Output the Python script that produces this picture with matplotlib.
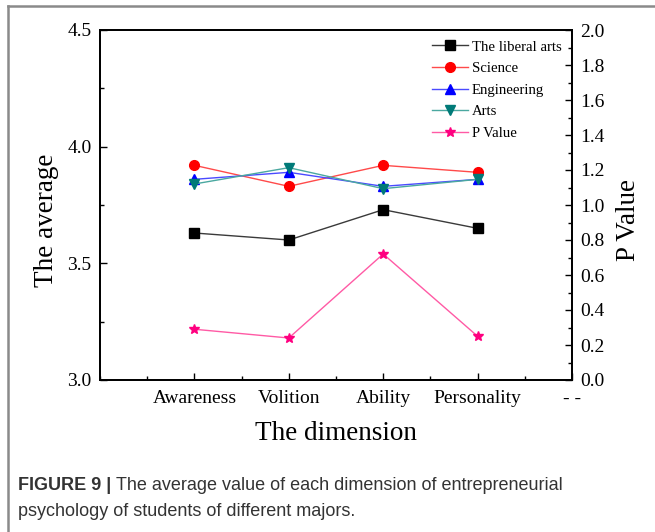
import numpy as np
import matplotlib.pyplot as plt
from matplotlib.lines import Line2D
from matplotlib.ticker import MultipleLocator

# dimensions on the x axis
dimensions = ['Awareness', 'Volition', 'Ability', 'Personality']
tick_labels = dimensions + ['- -']

# average score per major
liberal_arts = [3.63, 3.60, 3.73, 3.65]
science = [3.92, 3.83, 3.92, 3.89]
engineering = [3.86, 3.89, 3.83, 3.86]
arts = [3.84, 3.91, 3.82, 3.86]

# significance of the difference between majors
p_value = [0.29, 0.24, 0.72, 0.25]

serif = 'Liberation Serif'
plt.rcParams['font.family'] = serif

fig = plt.figure(figsize=(6.55, 5.32), dpi=100)
W, H = 655, 532
ax = fig.add_axes([100 / W, (H - 380) / H, 472 / W, 350 / H])
ax2 = ax.twinx()

x = np.arange(1, len(dimensions) + 1)

ax.plot(x, liberal_arts, color='#3a3a3a', lw=1.0, marker='s', ms=6.5,
        mfc='black', mec='black', label='The liberal arts')
ax.plot(x, science, color='#ff4a4a', lw=1.0, marker='o', ms=7,
        mfc='red', mec='red', label='Science')
ax.plot(x, engineering, color='#4a4aff', lw=1.0, marker='^', ms=7,
        mfc='blue', mec='blue', label='Engineering')
ax.plot(x, arts, color='#4aa8a0', lw=1.0, marker='v', ms=7,
        mfc='#007a78', mec='#007a78', label='Arts')
ax2.plot(x, p_value, color='#ff5aa5', lw=1.0, marker='*', ms=7,
         mfc='#ff0080', mec='#ff0080', label='P Value')

# left axis
ax.set_xlim(0, 5)
ax.set_ylim(3.0, 4.5)
ax.set_xticks(np.arange(1, 6))
ax.set_xticklabels(tick_labels)
ax.xaxis.set_minor_locator(MultipleLocator(0.5))
ax.yaxis.set_major_locator(MultipleLocator(0.5))
ax.yaxis.set_minor_locator(MultipleLocator(0.25))
ax.set_ylabel('The average', fontsize=19.5)
ax.yaxis.set_label_coords(-0.086, 0.457)
ax.set_xlabel('The dimension', fontsize=19.5, labelpad=10)

# right axis
ax2.set_ylim(0.0, 2.0)
ax2.yaxis.set_major_locator(MultipleLocator(0.2))
ax2.yaxis.set_minor_locator(MultipleLocator(0.1))
ax2.set_ylabel('P Value', fontsize=19.5, rotation=90)
ax2.yaxis.set_label_coords(1.093, 0.457)

for a in (ax, ax2):
    a.tick_params(which='both', direction='in', labelsize=14, width=1.0)
    a.tick_params(which='major', length=5, pad=6)
    a.tick_params(which='minor', length=3)
    for s in a.spines.values():
        s.set_linewidth(1.3)
ax.tick_params(axis='x', pad=7)
ax.tick_params(axis='y', right=False, which='both')
ax.yaxis.set_major_formatter(lambda v, p: f'{v:.1f}')
ax2.yaxis.set_major_formatter(lambda v, p: f'{v:.1f}')

# one legend for both axes
h1, l1 = ax.get_legend_handles_labels()
h2, l2 = ax2.get_legend_handles_labels()
ax.legend(h1 + h2, l1 + l2, loc='upper right', bbox_to_anchor=(1.0, 1.0),
          frameon=False, fontsize=10.6, handlelength=2.4, handletextpad=0.3,
          labelspacing=0.56, borderaxespad=0.3)

# page frame
fig.add_artist(Line2D([8 / W, 8 / W], [0, 1 - 6 / H], color='#8a8a8a', lw=1.8))
fig.add_artist(Line2D([8 / W, 1], [1 - 6 / H, 1 - 6 / H], color='#8a8a8a', lw=1.8))

# caption
cap_font = ['Liberation Sans', 'DejaVu Sans']
cap_color = '#333333'
t = fig.text(18 / W, 1 - 486 / H, 'FIGURE 9 | ', fontsize=13, fontweight='bold',
             family=cap_font, color=cap_color, va='center')
fig.canvas.draw()
bb = t.get_window_extent()
fig.text(bb.x1 / W, 1 - 486 / H,
         'The average value of each dimension of entrepreneurial',
         fontsize=13, family=cap_font, color=cap_color, va='center')
fig.text(18 / W, 1 - 511 / H, 'psychology of students of different majors.',
         fontsize=13, family=cap_font, color=cap_color, va='center')

fig.savefig('out.png', dpi=100)
